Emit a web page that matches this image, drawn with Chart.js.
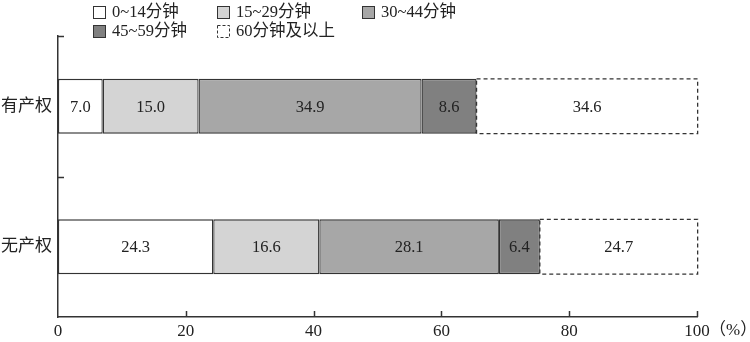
<!DOCTYPE html>
<html>
<head>
<meta charset="utf-8">
<script src="https://cdn.jsdelivr.net/npm/chart.js@4"></script>
<style>
  html, body { margin: 0; padding: 0; background: #fff; }
  #wrap { width: 750px; height: 342px; }
</style>
</head>
<body>
<div id="wrap"><canvas id="chart" width="750" height="342"></canvas></div>
<script>
// data
const categories = ["有产权", "无产权"]
const seriesNames = ["0~14分钟", "15~29分钟", "30~44分钟", "45~59分钟", "60分钟及以上"]
const min0to14 = [7.0, 24.3]
const min15to29 = [15.0, 16.6]
const min30to44 = [34.9, 28.1]
const min45to59 = [8.6, 6.4]
const min60plus = [34.6, 24.7]
const xTicks = [0, 20, 40, 60, 80, 100]

const fills = ["#ffffff", "#d4d4d4", "#a7a7a7", "#808080", "#ffffff"]
const serif = "'Liberation Serif', 'Noto Sans CJK SC', serif"
const ink = "#222"

const series = [min0to14, min15to29, min30to44, min45to59, min60plus]

// inward ticks, dashed last segment, value labels, legend, unit
const decorations = {
  id: "decorations",
  afterDatasetsDraw(chart) {
    const ctx = chart.ctx
    const xs = chart.scales.x
    const ys = chart.scales.y
    ctx.save()

    // dashed outline for the last series
    const last = chart.getDatasetMeta(series.length - 1)
    ctx.strokeStyle = "#333"
    ctx.lineWidth = 1.3
    ctx.setLineDash([4, 3])
    last.data.forEach(bar => {
      const p = bar.getProps(["x", "y", "base", "height"], true)
      ctx.strokeRect(p.base, p.y - p.height / 2, p.x - p.base, p.height)
    })
    ctx.setLineDash([])

    // value labels
    ctx.fillStyle = ink
    ctx.font = "16.5px " + serif
    ctx.textAlign = "center"
    ctx.textBaseline = "middle"
    series.forEach((vals, i) => {
      chart.getDatasetMeta(i).data.forEach((bar, j) => {
        const p = bar.getProps(["x", "y", "base"], true)
        ctx.fillText(vals[j].toFixed(1), (p.x + p.base) / 2, p.y + 1)
      })
    })

    // ticks pointing into the plot
    ctx.strokeStyle = "#333"
    ctx.lineWidth = 1.5
    const axisY = chart.chartArea.bottom
    const axisX = chart.chartArea.left
    xTicks.slice(1).forEach(v => {
      const px = Math.round(xs.getPixelForValue(v)) + 0.5
      ctx.beginPath()
      ctx.moveTo(px, axisY)
      ctx.lineTo(px, axisY - 6)
      ctx.stroke()
    })
    const bounds = [ys.top, (ys.top + ys.bottom) / 2]
    bounds.forEach(py => {
      const y = Math.round(py) + 0.5
      ctx.beginPath()
      ctx.moveTo(axisX, y)
      ctx.lineTo(axisX + 6, y)
      ctx.stroke()
    })

    // unit after the last tick label
    ctx.fillStyle = ink
    ctx.font = "17px " + serif
    ctx.textAlign = "left"
    ctx.fillText("（%）", xs.getPixelForValue(100) + 12, 331)

    // legend, two rows on fixed columns
    const cols = [93, 217, 362]
    const rows = [12, 31]
    ctx.font = "16.5px " + serif
    seriesNames.forEach((name, i) => {
      const bx = cols[i % 3]
      const by = rows[Math.floor(i / 3)]
      ctx.fillStyle = fills[i]
      ctx.fillRect(bx, by - 6, 12, 12)
      ctx.strokeStyle = "#333"
      ctx.lineWidth = 1
      if (i === series.length - 1) ctx.setLineDash([3, 2])
      ctx.strokeRect(bx + 0.5, by - 5.5, 12, 12)
      ctx.setLineDash([])
      ctx.fillStyle = ink
      ctx.textAlign = "left"
      ctx.fillText(name, bx + 19, by + 1)
    })

    ctx.restore()
  }
}

new Chart(document.getElementById("chart"), {
  type: "bar",
  data: {
    labels: categories,
    datasets: series.map((vals, i) => ({
      label: seriesNames[i],
      data: vals,
      backgroundColor: fills[i],
      borderColor: "#333",
      borderWidth: i === series.length - 1 ? 0 : 1.3,
      borderSkipped: false,
      barPercentage: 0.39,
      categoryPercentage: 1
    }))
  },
  options: {
    indexAxis: "y",
    responsive: false,
    animation: false,
    layout: { padding: { top: 36, right: 53, left: 0, bottom: 0 } },
    plugins: {
      legend: { display: false },
      tooltip: { enabled: false }
    },
    scales: {
      x: {
        stacked: true,
        min: 0,
        max: 100,
        afterBuildTicks: scale => { scale.ticks = xTicks.map(v => ({ value: v })) },
        grid: { display: false, drawTicks: false },
        border: { display: true, color: "#333", width: 1.5 },
        ticks: { color: ink, font: { family: serif, size: 17 }, padding: 4 },
        afterFit: scale => { scale.height = 25 }
      },
      y: {
        stacked: true,
        offset: true,
        grid: { display: false, drawTicks: false, offset: true },
        border: { display: true, color: "#333", width: 1.5 },
        ticks: { color: ink, font: { family: serif, size: 17 }, padding: 6 },
        afterFit: scale => { scale.width = 58 }
      }
    }
  },
  plugins: [decorations]
})
</script>
</body>
</html>
